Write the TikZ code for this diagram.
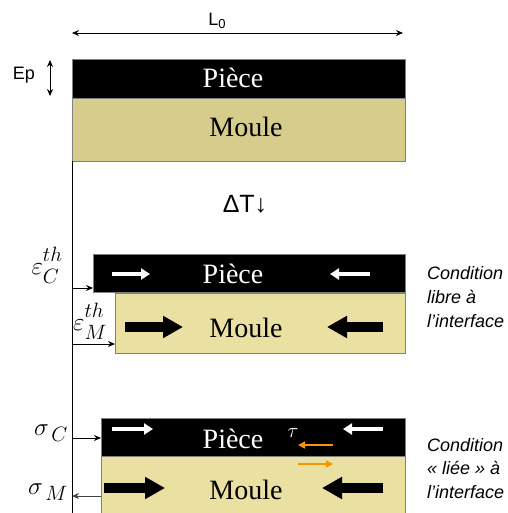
\documentclass[tikz,border=0pt]{standalone}
\usepackage{fontspec}
\setmainfont{Liberation Serif}
\newfontfamily\arialf{Liberation Sans}
\usetikzlibrary{arrows.meta}
\definecolor{tanA}{RGB}{214,204,140}
\definecolor{tanB}{RGB}{233,224,161}
\definecolor{orng}{RGB}{245,150,0}
\definecolor{edgegray}{RGB}{128,128,128}
\newcommand{\epslab}[1]{$\varepsilon^{\raisebox{4pt}{$\scriptstyle th$}}_{\raisebox{-3pt}{$\scriptstyle #1$}}$}
\begin{document}
\begin{tikzpicture}[x=1pt,y=-1pt,
  layer/.style={rectangle, draw=edgegray, line width=0.6pt, anchor=north west, inner sep=0pt},
  piecebox/.style={layer, fill=black},
  moulebox/.style={layer},
  boxtext/.style={font=\fontsize{28}{30}\selectfont, anchor=base, inner sep=0pt},
  thinarr/.style={-{Stealth[length=7pt,width=6pt]}, line width=0.8pt},
  whitearr/.style={-{Triangle[length=9pt,width=11pt]}, line width=4pt, white},
  blackarr/.style={-{Triangle[length=20pt,width=21pt]}, line width=10pt, black},
  orangearr/.style={-{Triangle[length=7pt,width=7pt]}, line width=1.6pt, orng},
  sans/.style={font=\arialf\fontsize{18}{20}\selectfont, inner sep=0pt},
  cond/.style={font=\arialf\itshape\fontsize{18}{24}\selectfont, align=left, anchor=west, inner sep=0pt},
  mlab/.style={font=\fontsize{28}{30}\selectfont, inner sep=0pt},
]
\useasboundingbox (0,0) rectangle (507,513);

% dimension L0
\coordinate (L0a) at (72,33);
\coordinate (L0b) at (403,33);
\draw[{Stealth[length=7pt,width=6pt]}-{Stealth[length=7pt,width=6pt]}, line width=0.8pt] (L0a) -- (L0b);
\node[sans] (l0) at (217,21) {L\raisebox{-3pt}{\fontsize{13}{13}\selectfont 0}};

% Ep
\node[sans] (ep) at (24,75) {Ep};
\coordinate (epa) at (50,60);
\coordinate (epb) at (50,96);
\draw[{Stealth[length=7pt,width=6pt]}-{Stealth[length=7pt,width=6pt]}, line width=0.8pt] (epa) -- (epb);

% initial state
\node[piecebox, minimum width=333pt, minimum height=39pt] (p1) at (72,59) {};
\node[moulebox, fill=tanA, minimum width=333pt, minimum height=63pt] (m1) at (72,98) {};
\node[boxtext, text=white] (tp1) at (233,88) {Pièce};
\node[boxtext] (tm1) at (246,137) {Moule};

% vertical reference line
\coordinate (vtop) at (72,161);
\coordinate (vbot) at (72,513);
\draw[line width=0.8pt] (vtop) -- (vbot);

% Delta T
\node[sans, font=\arialf\fontsize{25}{27}\selectfont] (dt) at (245,204) {ΔT↓};

% free condition
\node[piecebox, minimum width=312pt, minimum height=38pt] (p2) at (93,254) {};
\node[moulebox, fill=tanB, minimum width=290pt, minimum height=60pt] (m2) at (115,293) {};
\node[boxtext, text=white] (tp2) at (233,283) {Pièce};
\node[boxtext] (tm2) at (246,337) {Moule};

\coordinate (w1a) at (112,274); \coordinate (w1b) at (150,274);
\coordinate (w2a) at (370,274); \coordinate (w2b) at (330,274);
\draw[whitearr] (w1a) -- (w1b);
\draw[whitearr] (w2a) -- (w2b);
\coordinate (b1a) at (125,327); \coordinate (b1b) at (183,327);
\coordinate (b2a) at (383,327); \coordinate (b2b) at (327,327);
\draw[blackarr] (b1a) -- (b1b);
\draw[blackarr] (b2a) -- (b2b);

\coordinate (e1) at (72,288);
\coordinate (e2) at (72,344);
\draw[thinarr] (e1) -- (e1 -| p2.west);
\draw[thinarr] (e2) -- (e2 -| m2.west);
\node[mlab] (epsc) at (47,265) {\epslab{C}};
\node[mlab] (epsm) at (90,321) {\epslab{M}};

\node[cond] (c1) at (427,297.5) {Condition\\libre à\\l’interface};

% bonded condition
\node[piecebox, minimum width=304pt, minimum height=38pt] (p3) at (101,418) {};
\node[moulebox, fill=tanB, minimum width=304pt, minimum height=60pt] (m3) at (101,456) {};
\node[boxtext, text=white] (tp3) at (233,448) {Pièce};
\node[boxtext] (tm3) at (246,499) {Moule};

\coordinate (w3a) at (112,429); \coordinate (w3b) at (153,429);
\coordinate (w4a) at (383,429); \coordinate (w4b) at (343,429);
\draw[whitearr] (w3a) -- (w3b);
\draw[whitearr] (w4a) -- (w4b);
\coordinate (b3a) at (104,488); \coordinate (b3b) at (165,488);
\coordinate (b4a) at (383,488); \coordinate (b4b) at (322,488);
\draw[blackarr] (b3a) -- (b3b);
\draw[blackarr] (b4a) -- (b4b);

\coordinate (o1a) at (333,445); \coordinate (o1b) at (298,445);
\coordinate (o2a) at (298,464); \coordinate (o2b) at (333,464);
\draw[orangearr] (o1a) -- (o1b);
\draw[orangearr] (o2a) -- (o2b);
\node[font=\fontsize{20}{20}\selectfont, text=white, inner sep=0pt] (tau) at (293,433) {$\tau$};

\coordinate (s1) at (72,438);
\coordinate (s2) at (72,496);
\draw[thinarr] (s1) -- (s1 -| p3.west);
\draw[thinarr, draw=black!75, fill=black!75] (s2 -| m3.west) -- (s2);
\node[mlab] (sigc) at (51,433) {$\sigma_{\,C}$};
\node[mlab] (sigm) at (48,492) {$\sigma_{\,M}$};

\node[cond, font=\arialf\itshape\fontsize{18}{23.5}\selectfont] (c2) at (427,468.5) {Condition\\« liée » à\\l’interface};
\end{tikzpicture}
\end{document}
